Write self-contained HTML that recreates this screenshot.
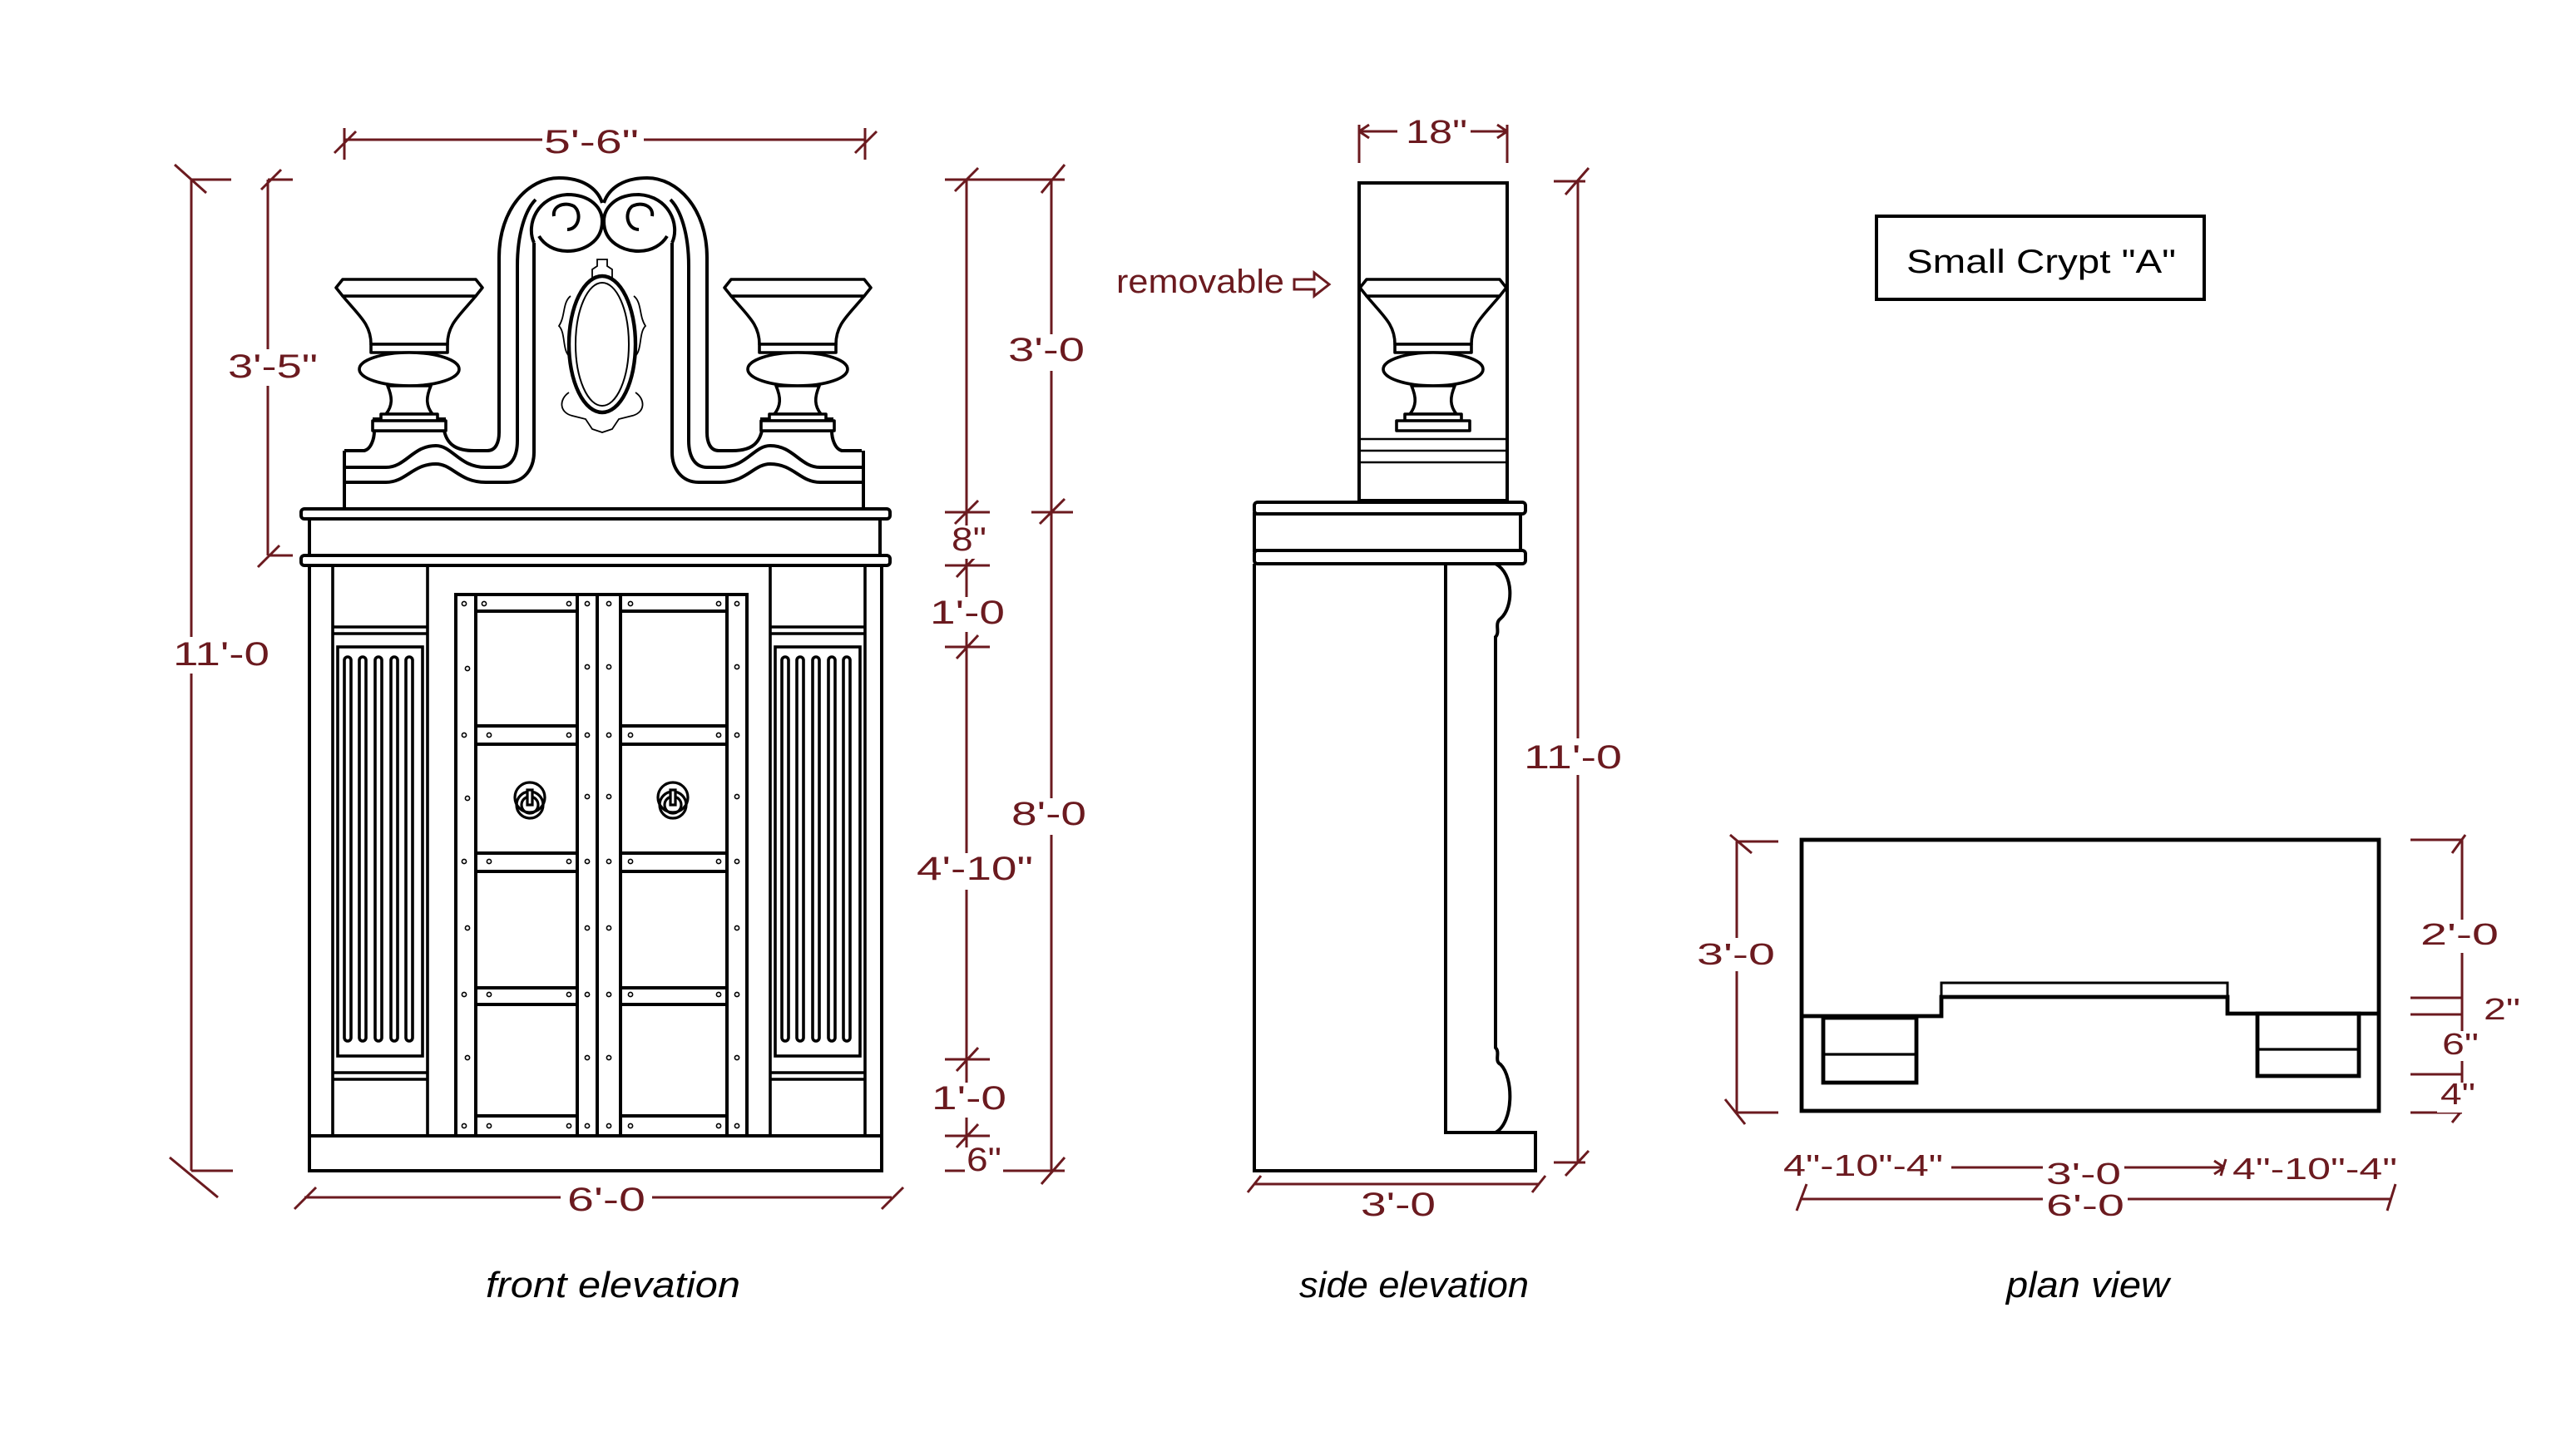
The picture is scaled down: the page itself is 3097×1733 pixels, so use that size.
<!DOCTYPE html>
<html><head><meta charset="utf-8"><style>
html,body{margin:0;padding:0;background:#fff;}
svg{display:block;}
text{font-family:"Liberation Sans",sans-serif;}
</style></head><body>
<svg width="3097" height="1733" viewBox="0 0 1548.5 866.5" xmlns="http://www.w3.org/2000/svg">
<rect x="0" y="0" width="1548.5" height="866.5" fill="#fff"/>
<defs>
<g id="urn" fill="#fff" stroke="#000" stroke-width="1.8" stroke-linejoin="round">
  <path d="M-23,207 C-23,195 -30,190 -40,178 L40,178 C30,190 23,195 23,207 Z"/>
  <path d="M-40,168 L40,168 L44,173 L40,178 L-40,178 L-44,173 Z"/>
  <rect x="-23" y="207" width="46" height="5"/>
  <ellipse cx="0" cy="222" rx="30" ry="10"/>
  <path d="M-13,232 C-10,239 -10,244 -14,249 L14,249 C10,244 10,239 13,232 Z"/>
  <rect x="-17" y="249" width="34" height="4"/>
  <rect x="-22" y="253" width="44" height="6"/>
</g>
<g id="pil" fill="none" stroke="#000" stroke-width="1.8">
  <rect x="200" y="340" width="57" height="343"/>
  <line x1="200" y1="377" x2="257" y2="377"/>
  <line x1="200" y1="381" x2="257" y2="381"/>
  <rect x="203" y="389" width="51" height="246"/>
  <rect x="207" y="395" width="4" height="231" rx="2"/>
  <rect x="216" y="395" width="4" height="231" rx="2"/>
  <rect x="225.5" y="395" width="4" height="231" rx="2"/>
  <rect x="235" y="395" width="4" height="231" rx="2"/>
  <rect x="244" y="395" width="4" height="231" rx="2"/>
  <line x1="200" y1="645" x2="257" y2="645"/>
  <line x1="200" y1="649" x2="257" y2="649"/>
</g>
<g id="half" fill="none" stroke="#000" stroke-width="2">
  <path d="M207,271 L219,271 C223,270 225,264 225,259"/>
  <path d="M267,259 C269,268 275,271 285,271 L293,271 C298,271 300,266 300,260 L300,155 C300,125 318,107 336,107 C350,107 359,113 362,122"/>
  <path d="M207,281 L232,281 C244,281 248,268 262,268 C272,268 276,281 292,281 L300,281 C307,281 311,275 311,265 L311,160 C311,140 316,126 322,120"/>
  <path d="M207,290 L232,290 C244,290 248,279 262,279 C272,279 276,290 292,290 L305,290 C315,290 321,282 321,272 L321,146"/>
  <path d="M321,146 C316,135 323,118 341,117 C355,117 362,125 362,133 C362,146 350,151 341,151 C333,151 327,147 324,142"/>
  <path d="M333,130 C332,124 339,121 345,124 C350,128 348,138 341,138"/>
  <rect x="225" y="252" width="42" height="7"/>
</g>
</defs>

<g fill="none" stroke="#000" stroke-width="2">
  <path d="M207,305 L207,271 M519,305 L519,271"/>
</g>
<use href="#half"/>
<use href="#half" transform="translate(725,0) scale(-1,1)"/>
<use href="#urn" transform="translate(246,0)"/>
<use href="#urn" transform="translate(479.5,0)"/>
<g fill="none" stroke="#000">
  <ellipse cx="362" cy="207" rx="20" ry="41" stroke-width="2.2"/>
  <ellipse cx="362" cy="207" rx="16" ry="37" stroke-width="1"/>
  <path stroke-width="0.9" d="M356,168 L356,162 L359,160 L359,156 L365,156 L365,160 L368,162 L368,168 M343,178 C338,182 340,190 336,196 C340,200 338,210 342,214 M381,178 C386,182 384,190 388,196 C384,200 386,210 382,214 M342,236 C336,240 336,248 344,250 L352,252 L356,258 L362,260 L368,258 L372,252 L380,250 C388,248 388,240 382,236"/>
</g>
<g fill="#fff" stroke="#000" stroke-width="2">
  <rect x="181" y="306" width="354" height="6" rx="2"/>
  <rect x="186" y="312" width="343" height="22"/>
  <rect x="181" y="334" width="354" height="6" rx="2"/>
  <rect x="186" y="340" width="344" height="364"/>
  <line x1="186" y1="683" x2="530" y2="683"/>
</g>
<use href="#pil"/>
<use href="#pil" transform="translate(263,0)"/>
<g fill="none" stroke="#000" stroke-width="2">
  <rect x="274" y="357.5" width="175" height="325.5"/>
  <line x1="286" y1="358" x2="286" y2="683"/>
  <line x1="347" y1="358" x2="347" y2="683"/>
  <line x1="359" y1="358" x2="359" y2="683"/>
  <line x1="373" y1="358" x2="373" y2="683"/>
  <line x1="437" y1="358" x2="437" y2="683"/>
  <path d="M286,367.5 H347 M286,436.5 H347 M286,447.5 H347 M286,513 H347 M286,524 H347 M286,594 H347 M286,604 H347 M286,671 H347"/>
  <path d="M373,367.5 H437 M373,436.5 H437 M373,447.5 H437 M373,513 H437 M373,524 H437 M373,594 H437 M373,604 H437 M373,671 H437"/>
</g>
<g fill="none" stroke="#000" stroke-width="0.8">
  <circle cx="279" cy="363" r="1.3"/><circle cx="291" cy="363" r="1.3"/><circle cx="342" cy="363" r="1.3"/><circle cx="353" cy="363" r="1.3"/><circle cx="366" cy="363" r="1.3"/><circle cx="379" cy="363" r="1.3"/><circle cx="432" cy="363" r="1.3"/><circle cx="443" cy="363" r="1.3"/>
  <circle cx="281" cy="402" r="1.3"/><circle cx="353" cy="401" r="1.3"/><circle cx="366" cy="401" r="1.3"/><circle cx="443" cy="401" r="1.3"/>
  <circle cx="279" cy="442" r="1.3"/><circle cx="294" cy="442" r="1.3"/><circle cx="342" cy="442" r="1.3"/><circle cx="353" cy="442" r="1.3"/><circle cx="366" cy="442" r="1.3"/><circle cx="379" cy="442" r="1.3"/><circle cx="432" cy="442" r="1.3"/><circle cx="443" cy="442" r="1.3"/>
  <circle cx="281" cy="480" r="1.3"/><circle cx="353" cy="479" r="1.3"/><circle cx="366" cy="479" r="1.3"/><circle cx="443" cy="479" r="1.3"/>
  <circle cx="279" cy="518" r="1.3"/><circle cx="294" cy="518" r="1.3"/><circle cx="342" cy="518" r="1.3"/><circle cx="353" cy="518" r="1.3"/><circle cx="366" cy="518" r="1.3"/><circle cx="379" cy="518" r="1.3"/><circle cx="432" cy="518" r="1.3"/><circle cx="443" cy="518" r="1.3"/>
  <circle cx="281" cy="558" r="1.3"/><circle cx="353" cy="558" r="1.3"/><circle cx="366" cy="558" r="1.3"/><circle cx="443" cy="558" r="1.3"/>
  <circle cx="279" cy="598" r="1.3"/><circle cx="294" cy="598" r="1.3"/><circle cx="342" cy="598" r="1.3"/><circle cx="353" cy="598" r="1.3"/><circle cx="366" cy="598" r="1.3"/><circle cx="379" cy="598" r="1.3"/><circle cx="432" cy="598" r="1.3"/><circle cx="443" cy="598" r="1.3"/>
  <circle cx="281" cy="636" r="1.3"/><circle cx="353" cy="636" r="1.3"/><circle cx="366" cy="636" r="1.3"/><circle cx="443" cy="636" r="1.3"/>
  <circle cx="279" cy="677" r="1.3"/><circle cx="294" cy="677" r="1.3"/><circle cx="342" cy="677" r="1.3"/><circle cx="353" cy="677" r="1.3"/><circle cx="366" cy="677" r="1.3"/><circle cx="379" cy="677" r="1.3"/><circle cx="432" cy="677" r="1.3"/><circle cx="443" cy="677" r="1.3"/>
</g>
<g fill="none" stroke="#000" stroke-width="1.6">
  <circle cx="318.5" cy="479.5" r="9"/><circle cx="318.5" cy="484" r="8"/><circle cx="318.5" cy="484" r="5"/><rect x="317" y="475" width="3" height="9" fill="#fff"/>
  <circle cx="404.5" cy="479.5" r="9"/><circle cx="404.5" cy="484" r="8"/><circle cx="404.5" cy="484" r="5"/><rect x="403" y="475" width="3" height="9" fill="#fff"/>
</g>

<g fill="none" stroke="#6b1a1f" stroke-width="1.5">
  <line x1="115" y1="108" x2="115" y2="704"/>
  <path d="M115,108 H139 M105,99 L124,116 M115,704 H140 M102,696 L131,720"/>
  <line x1="161" y1="108" x2="161" y2="334"/>
  <path d="M161,108 H176 M157,114 L169,102 M161,334 H176 M155,341 L168,328"/>
  <path d="M207,84 H326 M387,84 H520 M207,77 V96 M520,77 V96 M201,92 L214,79 M514,92 L527,79"/>
  <line x1="581" y1="108" x2="581" y2="704"/>
  <path d="M568,108 H595 M574,115 L588,101 M568,308 H595 M574,315 L588,301 M568,340 H595 M575,347 L588,333 M568,389 H595 M575,396 L588,382 M568,637 H595 M575,644 L588,630 M568,683 H595 M575,690 L588,676 M568,704 H595"/>
  <line x1="632" y1="108" x2="632" y2="704"/>
  <path d="M595,108 H640 M626,116 L640,99 M620,308 H645 M625,315 L640,300 M595,704 H640 M626,712 L640,696"/>
  <path d="M183,720 H337 M392,720 H536 M177,727 L190,714 M530,727 L543,714"/>
</g>
<g fill="#fff">
  <rect x="103" y="383" width="60" height="22"/>
  <rect x="136" y="210" width="56" height="22"/>
  <rect x="604" y="201" width="50" height="22"/>
  <rect x="571" y="316" width="23" height="20"/>
  <rect x="558" y="359" width="47" height="21"/>
  <rect x="606" y="480" width="49" height="22"/>
  <rect x="550" y="513" width="72" height="22"/>
  <rect x="559" y="651" width="47" height="21"/>
  <rect x="580" y="690" width="23" height="19"/>
</g>
<g fill="#6b1a1f" font-size="20">
  <text x="104" y="400" textLength="58" lengthAdjust="spacingAndGlyphs">11'-0</text>
  <text x="137" y="227" textLength="54" lengthAdjust="spacingAndGlyphs">3'-5"</text>
  <text x="327" y="92" textLength="57" lengthAdjust="spacingAndGlyphs">5'-6"</text>
  <text x="606" y="217" textLength="46" lengthAdjust="spacingAndGlyphs">3'-0</text>
  <text x="572" y="331" textLength="21" lengthAdjust="spacingAndGlyphs">8"</text>
  <text x="559" y="375" textLength="45" lengthAdjust="spacingAndGlyphs">1'-0</text>
  <text x="608" y="496" textLength="45" lengthAdjust="spacingAndGlyphs">8'-0</text>
  <text x="551" y="529" textLength="70" lengthAdjust="spacingAndGlyphs">4'-10"</text>
  <text x="560" y="667" textLength="45" lengthAdjust="spacingAndGlyphs">1'-0</text>
  <text x="581" y="704" textLength="21" lengthAdjust="spacingAndGlyphs">6"</text>
  <text x="341" y="728" textLength="47" lengthAdjust="spacingAndGlyphs">6'-0</text>
</g>

<g fill="#fff" stroke="#000" stroke-width="2">
  <rect x="817" y="110" width="89" height="191"/>
  <line x1="817" y1="264" x2="906" y2="264" stroke-width="1.2"/>
  <line x1="817" y1="271" x2="906" y2="271" stroke-width="1.2"/>
  <line x1="817" y1="278" x2="906" y2="278" stroke-width="1.2"/>
</g>
<use href="#urn" transform="translate(861.5,0)"/>
<g fill="#fff" stroke="#000" stroke-width="2">
  <rect x="754" y="302" width="163" height="7" rx="2"/>
  <rect x="754" y="309" width="160" height="22"/>
  <rect x="754" y="331" width="163" height="8" rx="2"/>
  <path d="M754,339 L754,704 L923,704 L923,681 L869,681 L869,339" fill="none"/>
  <path fill="none" d="M899,339 C910,345 910,365 902,372 C898,375 902,380 899,383 L899,630 C902,633 898,638 902,640 C910,648 910,675 899,681"/>
</g>
<g fill="none" stroke="#6b1a1f" stroke-width="1.5">
  <path d="M817,79 H840 M884,79 H906 M817,75 V98 M906,75 V98 M817,79 L823,75 M817,79 L823,83 M906,79 L900,75 M906,79 L900,83"/>
  <line x1="948.5" y1="109" x2="948.5" y2="699"/>
  <path d="M934,109 H953 M941,117 L955,101 M934,699 H953 M941,707 L955,692"/>
  <path d="M754,712 H925 M750,717 L758,707 M921,717 L929,707"/>
  <path d="M778,168 H790 V164 L799,171 L790,178 V174 H778 Z"/>
</g>
<g fill="#fff">
  <rect x="914" y="444" width="63" height="22"/>
  <rect x="816" y="714" width="49" height="22"/>
</g>
<g fill="#6b1a1f" font-size="20">
  <text x="845" y="86" textLength="37" lengthAdjust="spacingAndGlyphs">18"</text>
  <text x="671" y="176" textLength="101" lengthAdjust="spacingAndGlyphs">removable</text>
  <text x="916" y="462" textLength="59" lengthAdjust="spacingAndGlyphs">11'-0</text>
  <text x="818" y="731" textLength="45" lengthAdjust="spacingAndGlyphs">3'-0</text>
</g>

<g fill="none" stroke="#000" stroke-width="2.4">
  <rect x="1083" y="505" width="347" height="163"/>
  <path d="M1083,611 L1167,611 L1167,599.5 L1339,599.5 L1339,609.5 L1430,609.5"/>
  <rect x="1167" y="591" width="172" height="8.5" stroke-width="1.5"/>
  <rect x="1096" y="612" width="56" height="39"/>
  <line x1="1096" y1="634" x2="1152" y2="634" stroke-width="1.6"/>
  <rect x="1357" y="609.5" width="61" height="37.5"/>
  <line x1="1357" y1="631" x2="1418" y2="631" stroke-width="1.6"/>
</g>
<g fill="none" stroke="#6b1a1f" stroke-width="1.5">
  <path d="M1044,506 V669 M1044,506 H1069 M1040,502 L1053,513 M1044,669 H1069 M1037,661 L1049,676"/>
  <path d="M1480,505 V669 M1449,505 H1480 M1474,513 L1482,502 M1449,600 H1480 M1449,610 H1480 M1449,646 H1480 M1449,669 H1480 M1474,675 L1483,664"/>
  <path d="M1173,702 H1337 M1337,702 L1331,698 M1337,702 L1331,706 M1335,707 L1338,697"/>
  <path d="M1082,721 H1437 M1080,728 L1086,712 M1435,728 L1440,712"/>
</g>
<g fill="#fff">
  <rect x="1018" y="564" width="51" height="20"/>
  <rect x="1453" y="553" width="51" height="20"/>
  <rect x="1466" y="620" width="26" height="18"/>
  <rect x="1465" y="651" width="25" height="18"/>
  <rect x="1228" y="698" width="49" height="18"/>
  <rect x="1228" y="717" width="51" height="18"/>
</g>
<g fill="#6b1a1f" font-size="18">
  <text x="1020" y="580" textLength="47" lengthAdjust="spacingAndGlyphs">3'-0</text>
  <text x="1455" y="568" textLength="47" lengthAdjust="spacingAndGlyphs">2'-0</text>
  <text x="1493" y="613" textLength="22" lengthAdjust="spacingAndGlyphs">2"</text>
  <text x="1468" y="634" textLength="22" lengthAdjust="spacingAndGlyphs">6"</text>
  <text x="1467" y="664" textLength="21" lengthAdjust="spacingAndGlyphs">4"</text>
  <text x="1072" y="707" textLength="96" lengthAdjust="spacingAndGlyphs">4"-10"-4"</text>
  <text x="1230" y="712" textLength="45" lengthAdjust="spacingAndGlyphs">3'-0</text>
  <text x="1342" y="709" textLength="99" lengthAdjust="spacingAndGlyphs">4"-10"-4"</text>
  <text x="1230" y="731" textLength="47" lengthAdjust="spacingAndGlyphs">6'-0</text>
</g>

<rect x="1128" y="130" width="197" height="50" fill="none" stroke="#000" stroke-width="2"/>
<text x="1146" y="164" font-size="20" textLength="162" lengthAdjust="spacingAndGlyphs" fill="#000">Small Crypt "A"</text>

<g fill="#000" font-size="22" font-style="italic">
  <text x="292" y="780" textLength="153" lengthAdjust="spacingAndGlyphs">front elevation</text>
  <text x="781" y="780" textLength="138" lengthAdjust="spacingAndGlyphs">side elevation</text>
  <text x="1206" y="780" textLength="98" lengthAdjust="spacingAndGlyphs">plan view</text>
</g>
</svg>
</body></html>
